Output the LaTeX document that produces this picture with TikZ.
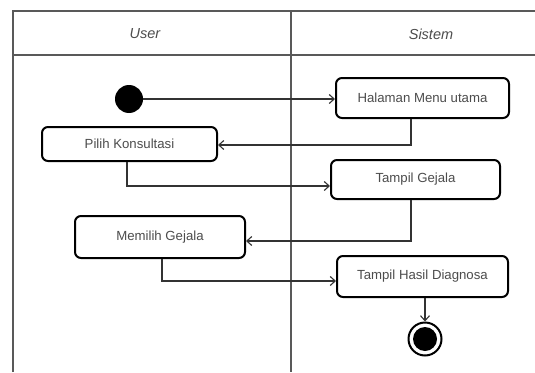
\documentclass[tikz,border=0pt]{standalone}
\usepackage{fontspec}
\setmainfont{Liberation Sans}
\usetikzlibrary{arrows.meta,calc}
\begin{document}
\begin{tikzpicture}[x=1pt,y=-1pt,
  lane/.style={draw=black!65,line width=1.8pt},
  act/.style={draw=black,line width=2pt,rounded corners=6pt,fill=white,
    text=black!70,font=\fontsize{13.2}{15}\selectfont,inner sep=0pt},
  flow/.style={draw=black!80,line width=1.1pt,-{Straight Barb[length=5pt,width=9pt,line width=1.1pt]}},
  hdr/.style={text=black!70,font=\fontsize{14.5}{17}\selectfont\itshape}]
\useasboundingbox (0,0) rectangle (535,372);
% swimlanes
\coordinate (tl) at (13,11);
\coordinate (tr) at (535,11);
\coordinate (hl) at (13,55);
\coordinate (hr) at (535,55);
\coordinate (bl) at (13,372);
\coordinate (dt) at (291,11);
\coordinate (db) at (291,372);
\draw[lane] (bl) -- (tl) -- (tr);
\draw[lane] (hl) -- (hr);
\draw[lane] (dt) -- (db);
\node[hdr] (user) at (145,34) {User};
\node[hdr] (sistem) at (431,34) {Sistem};
% nodes
\node[circle,fill=black,minimum size=28pt,inner sep=0pt] (start) at (129,99) {};
\node[act,minimum width=173pt,minimum height=40pt] (hal) at (422.5,98) {Halaman Menu utama};
\node[act,minimum width=175pt,minimum height=34pt] (pilih) at (129.5,144) {Pilih Konsultasi};
\node[act,minimum width=169pt,minimum height=39pt] (gej) at (415.5,179.5) {Tampil Gejala};
\node[act,minimum width=170pt,minimum height=42pt] (mem) at (160,237) {Memilih Gejala};
\node[act,minimum width=171pt,minimum height=41pt] (has) at (422.5,276.5) {Tampil Hasil Diagnosa};
\node[circle,draw=black,line width=2pt,minimum size=33pt,inner sep=0pt] (end) at (425,339) {};
\node[circle,fill=black,minimum size=24pt,inner sep=0pt] (endin) at (end.center) {};
% flows
\draw[flow] (start.east) -- (start -| hal.west);
\draw[flow] ($(hal.south)+(-11.5,0)$) |- ($(pilih.east)+(0,1)$);
\draw[flow] ($(pilih.south)+(-2.5,0)$) |- ($(gej.west)+(0,6.5)$);
\draw[flow] ($(gej.south)+(-4.5,0)$) |- ($(mem.east)+(0,4)$);
\draw[flow] ($(mem.south)+(2,0)$) |- ($(has.west)+(0,4.5)$);
\draw[flow] (has.south -| end.north) -- (end.north);
\end{tikzpicture}
\end{document}
